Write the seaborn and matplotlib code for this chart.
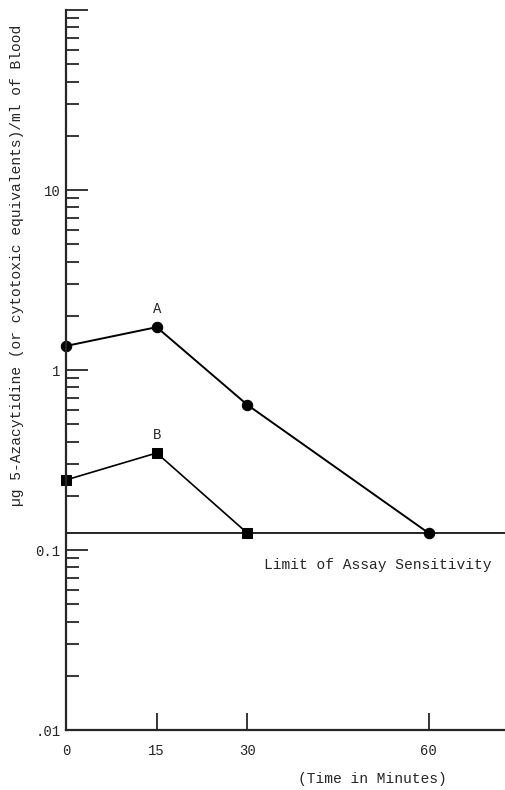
import matplotlib
matplotlib.use("Agg")
import matplotlib.pyplot as plt
import matplotlib.ticker as mticker
import pandas as pd
import seaborn as sns

# data
time_min = [0, 15, 30, 60]
curve_a = [1.36, 1.73, 0.64, 0.124]
time_b = [0, 15, 30]
curve_b = [0.245, 0.346, 0.124]
limit_sensitivity = 0.124
x_ticks = [0, 15, 30, 60]
x_ticklabels = ["0", "15", "30", "60"]
y_ticks = [0.01, 0.1, 1, 10, 100]
y_ticklabels = [".01", "0.1", "1", "10", ""]

sns.set_style("ticks")
plt.rcParams["font.family"] = ["Liberation Mono", "DejaVu Sans"]

df_a = pd.DataFrame({"t": time_min, "v": curve_a})
df_b = pd.DataFrame({"t": time_b, "v": curve_b})

fig = plt.figure(figsize=(5.06, 7.90), dpi=100)
ax = fig.add_axes([66 / 506, 1 - 730 / 790, 439 / 506, 720 / 790])

sns.lineplot(data=df_a, x="t", y="v", ax=ax, color="black", lw=1.4,
             marker="o", markersize=7.5, markeredgecolor="black", clip_on=False)
sns.lineplot(data=df_b, x="t", y="v", ax=ax, color="black", lw=1.2,
             marker="s", markersize=6.5, markeredgecolor="black", clip_on=False)
ax.axhline(limit_sensitivity, color="black", lw=1.2, zorder=1)

ax.set_yscale("log")
ax.set_xlim(0, 72.6)
ax.set_ylim(0.01, 100)

ax.set_xticks(x_ticks)
ax.set_xticklabels(x_ticklabels, fontsize=10)
ax.set_yticks(y_ticks)
ax.set_yticklabels(y_ticklabels, fontsize=10)
ax.yaxis.set_minor_locator(mticker.LogLocator(base=10, subs=range(2, 10)))
ax.yaxis.set_minor_formatter(mticker.NullFormatter())
ax.tick_params(axis="y", which="major", direction="in", length=16, width=1.3, pad=4)
ax.tick_params(axis="y", which="minor", direction="in", length=9, width=1.3)
ax.tick_params(axis="x", which="major", direction="in", length=12, width=1.3, pad=10)

sns.despine(ax=ax)
for s in ("left", "bottom"):
    ax.spines[s].set_linewidth(1.6)
ax.set_xlabel("")
ax.set_ylabel("")

ax.text(15, 2.0, "A", ha="center", va="bottom", fontsize=10)
ax.text(15, 0.40, "B", ha="center", va="bottom", fontsize=10)
fig.text(378 / 506, 1 - 565 / 790, "Limit of Assay Sensitivity", fontsize=10.5,
         ha="center", va="center")
fig.text(372 / 506, 1 - 779 / 790, "(Time in Minutes)", ha="center", va="center",
         fontsize=10.5)
fig.text(17 / 506, 1 - 265 / 790,
         "\u00b5g 5-Azacytidine (or cytotoxic equivalents)/ml of Blood",
         rotation=90, ha="center", va="center", fontsize=10.5)

fig.savefig("out.png", dpi=100)
